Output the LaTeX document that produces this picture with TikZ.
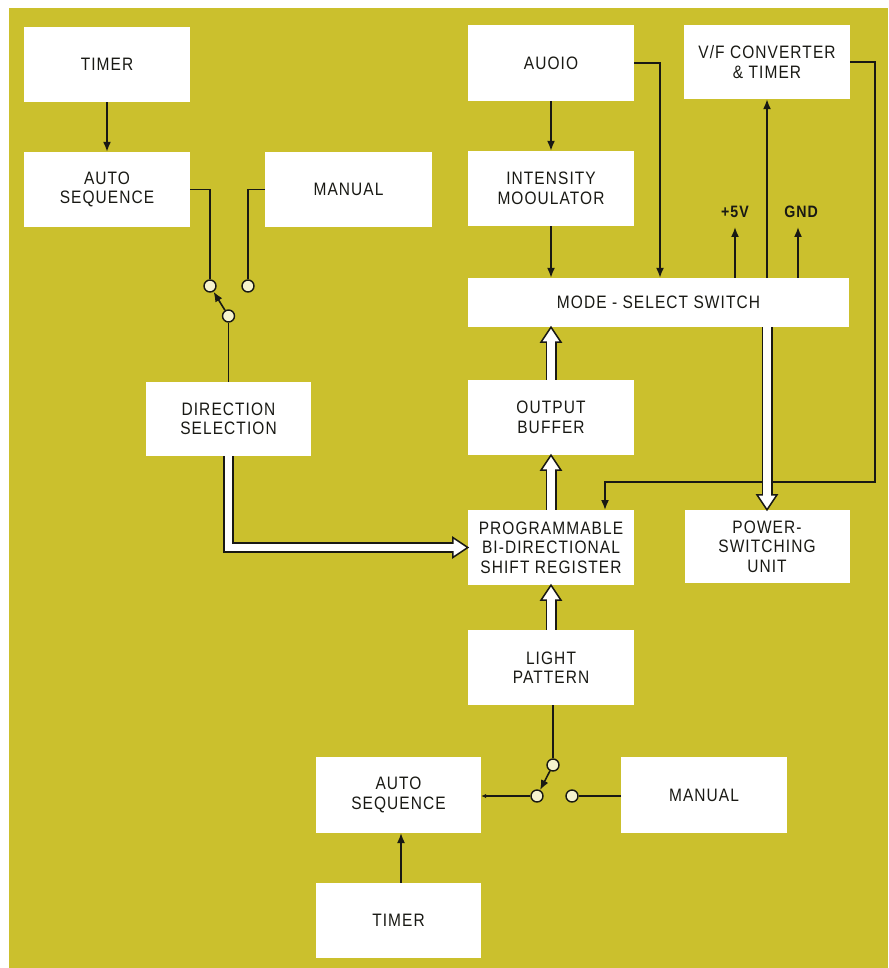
\documentclass[tikz,border=0pt]{standalone}
\usepackage{fontspec}
\setmainfont{Liberation Sans}[FakeStretch=0.86,LetterSpace=6]
\usetikzlibrary{calc,arrows.meta}
\definecolor{bgyel}{RGB}{203,192,45}
\definecolor{contactfill}{RGB}{246,243,205}
\definecolor{ink}{RGB}{25,25,20}
\tikzset{
  blk/.style={fill=white, draw=none, minimum width=166pt, minimum height=75pt,
    inner sep=0pt, align=center, text=ink, font=\fontsize{18}{19.5}\selectfont},
  lbl/.style={inner sep=0pt, text=ink, font=\bfseries\fontsize{16.5}{18}\selectfont},
  wire/.style={line width=1.6pt, ink},
  arr/.style={wire, -{Latex[length=10pt,width=8pt]}},
  smallarr/.style={wire, -{Latex[length=5pt,width=4.5pt]}},
  contactc/.style={circle, draw=ink, line width=1.4pt, fill=contactfill,
    minimum size=12pt, inner sep=0pt},
}
% hollow (double) arrow from #1 to tip #2
\newcommand{\harrow}[2]{%
  \coordinate (ha-b) at ($(#2)!15pt!(#1)$);
  \draw[line width=11pt, ink] (#1) -- (ha-b);
  \draw[fill=white, draw=ink, line width=1.5pt, line join=miter]
    (#2) -- ($(ha-b)!10pt!90:(#2)$) -- ($(ha-b)!10pt!-90:(#2)$) -- cycle;
  \draw[line width=7.5pt, white] (#1) -- ($(ha-b)!2pt!(#2)$);
}
\begin{document}
\begin{tikzpicture}[x=1pt,y=-1pt]
\useasboundingbox (0,0) rectangle (888,968);
\fill[white] (0,0) rectangle (888,968);
\fill[bgyel] (9,8) rectangle (888,968);

% boxes
\node[blk] (timerA) at (107,64.5) {TIMER};
\node[blk] (autoA) at (107,189.5) {AUTO\\SEQUENCE};
\node[blk, minimum width=167pt] (manA) at (348.5,189.5) {MANUAL};
\node[blk, minimum width=165pt, minimum height=74pt] (dir) at (228.5,419) {DIRECTION\\SELECTION};
\node[blk, minimum height=76pt] (audio) at (551,63) {AUOIO};
\node[blk] (inten) at (551,188.5) {INTENSITY\\MOOULATOR};
\node[blk, minimum height=74pt] (vf) at (767,62) {V/F CONVERTER\\\& TIMER};
\node[blk, minimum width=381pt, minimum height=49pt] (mode) at (658.5,302.5) {MODE - SELECT SWITCH};
\node[blk] (outbuf) at (551,417.5) {OUTPUT\\BUFFER};
\node[blk] (prog) at (551,547.5) {PROGRAMMABLE\\BI-DIRECTIONAL\\SHIFT REGISTER};
\node[blk, minimum width=165pt, minimum height=73pt] (power) at (767,546.5) {POWER-\\SWITCHING\\UNIT};
\node[blk] (light) at (551,667.5) {LIGHT\\PATTERN};
\node[blk, minimum width=165pt, minimum height=76pt] (autoB) at (398.5,795) {AUTO\\SEQUENCE};
\node[blk, minimum height=76pt] (manB) at (704,795) {MANUAL};
\node[blk, minimum width=165pt] (timerB) at (398.5,920.5) {TIMER};

% labels
\node[lbl] (v5) at (735,212) {+5V};
\node[lbl] (gnd) at (801,212) {GND};

% switch contacts
\node[contactc] (c1) at (210,286) {};
\node[contactc] (c2) at (248,286) {};
\node[contactc] (p1) at (228.5,316) {};
\node[contactc] (p2) at (553,765) {};
\node[contactc] (c3) at (537,796) {};
\node[contactc] (c4) at (572,796) {};

% coordinates
\coordinate (t5) at (735,227);
\coordinate (tg) at (798,227);
\coordinate (k1) at (660,63);
\coordinate (k2) at (875,482);
\coordinate (pin) at (605,510);
\coordinate (btm) at (401,833);
\coordinate (ms) at (mode.south -| power.north);
\coordinate (m2) at (outbuf.north |- mode.south);

% thin connectors
\draw[arr] (timerA.south) -- (autoA.north);
\draw[wire] (autoA.east) -| (c1.north);
\draw[wire] (manA.west) -| (c2.north);
\draw[arr] (p1) -- (c1);
\draw[wire] (p1.south) -- (p1.south |- dir.north);

\draw[arr] (audio.south) -- (inten.north);
\draw[arr] (inten.south) -- (inten.south |- mode.north);
\draw[arr] (audio.east) -| (k1 |- mode.north);
\draw[arr] (t5 |- mode.north) -- (t5);
\draw[arr] (tg |- mode.north) -- (tg);
\draw[arr] (vf.south |- mode.north) -- (vf.south);
\draw[arr] (vf.east) -| (k2) -| (pin);

\draw[wire] (p2.north |- light.south) -- (p2.north);
\draw[arr] (p2) -- (c3);
\draw[smallarr] (c3.west) -- (c3.west -| autoB.east);
\draw[wire] (c4.east) -- (c4.east -| manB.west);
\draw[arr] (btm |- timerB.north) -- (btm);

% hollow double arrows
\harrow{ms}{power.north}
\harrow{prog.north}{outbuf.south}
\harrow{outbuf.north}{m2}
\harrow{light.north}{prog.south}
% elbow hollow arrow from direction selection to register
\coordinate (e1) at (dir.south |- prog.west);
\coordinate (eb) at ($(prog.west)+(-15,0)$);
\draw[line width=11pt, ink, line join=miter] (dir.south) -- (e1) -- (eb);
\draw[fill=white, draw=ink, line width=1.5pt, line join=miter]
  (prog.west) -- ($(eb)+(0,-10)$) -- ($(eb)+(0,10)$) -- cycle;
\draw[line width=7.5pt, white, line join=miter] (dir.south) -- (e1) -- ($(eb)+(2,0)$);
\end{tikzpicture}
\end{document}
